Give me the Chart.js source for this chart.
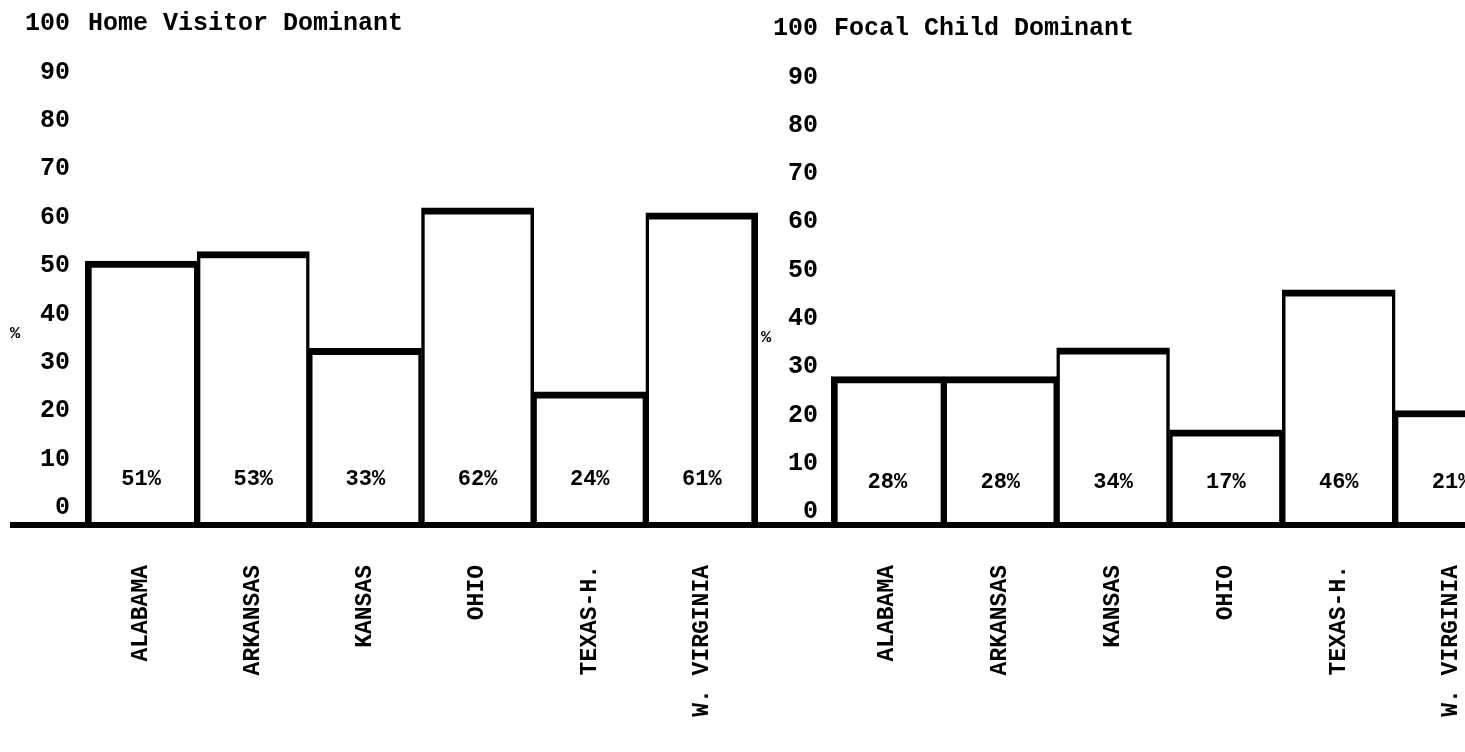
<!DOCTYPE html>
<html>
<head>
<meta charset="utf-8">
<script src="https://cdn.jsdelivr.net/npm/chart.js@4.4.1/dist/chart.umd.min.js"></script>
<style>
html,body{margin:0;padding:0;background:#fff;width:1465px;height:752px;overflow:hidden;position:relative;}
#left{position:absolute;left:0;top:0;width:760px;height:752px;}
#right{position:absolute;left:760px;top:0;width:750px;height:752px;}
</style>
</head>
<body>
<div id="left"><canvas id="c1"></canvas></div>
<div id="right"><canvas id="c2"></canvas></div>
<script>
const categories = ['ALABAMA', 'ARKANSAS', 'KANSAS', 'OHIO', 'TEXAS-H.', 'W. VIRGINIA'];
const homeVisitorDominant = [51, 53, 33, 62, 24, 61];
const focalChildDominant = [28, 28, 34, 17, 46, 21];
const yTickValues = [0, 10, 20, 30, 40, 50, 60, 70, 80, 90, 100];
const panelTitles = ['Home Visitor Dominant', 'Focal Child Dominant'];
const yAxisTitle = '%';

const FONT = "'Liberation Mono', 'Courier New', monospace";

function makePanel(canvasId, title, values, opts) {
  const n = values.length;
  const decor = {
    id: 'decor' + canvasId,
    afterDatasetsDraw(chart) {
      const ctx = chart.ctx;
      const ca = chart.chartArea;
      const y = chart.scales.y;
      const meta = chart.getDatasetMeta(0);
      ctx.save();
      ctx.fillStyle = '#000';
      ctx.font = 'bold 22px ' + FONT;
      ctx.textAlign = 'center';
      ctx.textBaseline = 'middle';
      meta.data.forEach((bar, i) => {
        ctx.fillText(values[i] + '%', bar.x, y.getPixelForValue(opts.labelAt));
      });
      ctx.font = 'bold 25px ' + FONT;
      ctx.textAlign = 'left';
      ctx.fillText(title, ca.left + 3, y.getPixelForValue(100));
      ctx.font = 'bold 17px ' + FONT;
      ctx.textAlign = 'center';
      ctx.fillText(yAxisTitle, ca.left + opts.pctDx, y.getPixelForValue(36));
      ctx.strokeStyle = '#000';
      ctx.lineWidth = 6;
      ctx.beginPath();
      ctx.moveTo(opts.lineFrom, ca.bottom + 2);
      ctx.lineTo(chart.width, ca.bottom + 2);
      ctx.stroke();
      ctx.restore();
    }
  };
  return new Chart(document.getElementById(canvasId), {
    type: 'bar',
    data: {
      labels: categories,
      datasets: [{
        data: values,
        base: opts.min,
        backgroundColor: '#fff',
        borderColor: '#000',
        borderSkipped: 'bottom',
        borderWidth: (c) => ({
          top: 7,
          left: c.dataIndex === 0 ? 7 : 3.5,
          right: c.dataIndex === n - 1 ? 7 : 3.5,
          bottom: 0
        }),
        categoryPercentage: 1,
        barPercentage: 1
      }]
    },
    options: {
      responsive: true,
      maintainAspectRatio: false,
      animation: false,
      events: [],
      layout: { padding: { top: opts.top, right: 2, left: 0, bottom: 0 } },
      plugins: { legend: { display: false }, tooltip: { enabled: false }, title: { display: false } },
      scales: {
        x: {
          grid: { display: false, drawTicks: false },
          border: { display: false },
          ticks: {
            minRotation: 90, maxRotation: 90, autoSkip: false,
            padding: 42, color: '#000',
            font: { family: FONT, size: 23, weight: 'bold' }
          },
          afterFit(s) { s.height = 229; s.paddingLeft = 0; s.paddingRight = 0; }
        },
        y: {
          min: opts.min, max: 100,
          grid: { display: false, drawTicks: false },
          border: { display: false },
          ticks: {
            padding: opts.tickPad, color: '#000',
            font: { family: FONT, size: 25, weight: 'bold' }
          },
          afterBuildTicks(s) { s.ticks = yTickValues.map(v => ({ value: v })); },
          afterFit(s) { s.width = opts.yWidth; s.paddingTop = 0; s.paddingBottom = 0; }
        }
      }
    },
    plugins: [decor]
  });
}

makePanel('c1', panelTitles[0], homeVisitorDominant,
  { min: -3.1, top: 24, yWidth: 85, tickPad: 15, labelAt: 6, pctDx: -70, lineFrom: 10 });
makePanel('c2', panelTitles[1], focalChildDominant,
  { min: -2.3, top: 29, yWidth: 71, tickPad: 13, labelAt: 6, pctDx: -65, lineFrom: 0 });
</script>
</body>
</html>
